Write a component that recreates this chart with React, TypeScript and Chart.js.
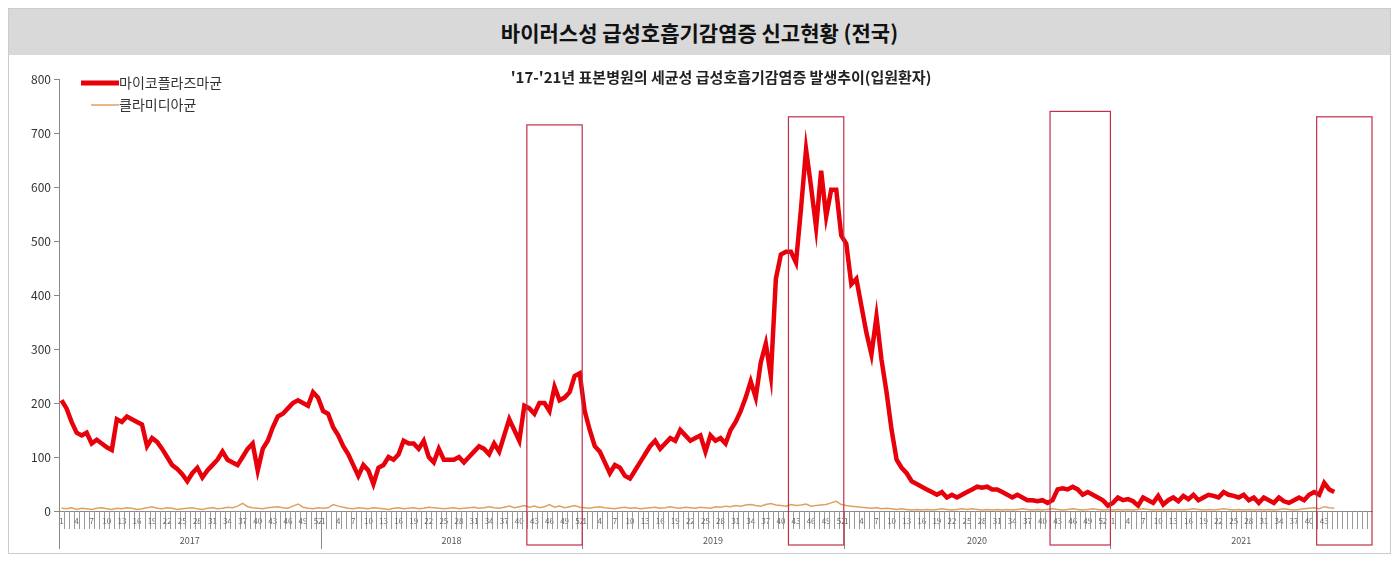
import React, { useEffect, useRef } from "react";
import Chart from "chart.js/auto";

// weeks per year on the axis (2021 data stops at week 45)
const years = ["2017", "2018", "2019", "2020", "2021"];
const weeksPerYear = [52, 52, 52, 53, 52];
const lastLabelledWeek2021 = 45;

const myco2017 = [205, 190, 165, 145, 140, 145, 125, 132, 125, 118, 113, 170, 165, 175, 170, 165, 160, 120, 135, 128, 115, 100, 85, 78, 68, 55, 70, 80, 62, 75, 85, 95, 110, 95, 90, 85, 100, 115, 125, 75, 115, 130, 155, 175, 180, 190, 200, 205, 200, 195, 220, 210];
const myco2018 = [185, 180, 155, 140, 120, 105, 85, 65, 85, 75, 50, 80, 85, 100, 95, 105, 130, 125, 125, 115, 130, 100, 90, 115, 95, 95, 95, 100, 90, 100, 110, 120, 115, 105, 125, 110, 140, 170, 150, 130, 195, 190, 180, 200, 200, 185, 230, 205, 210, 220, 250, 255];
const myco2019 = [185, 150, 120, 110, 90, 70, 85, 80, 65, 60, 75, 90, 105, 120, 130, 115, 125, 135, 130, 150, 140, 130, 135, 140, 110, 140, 130, 135, 125, 150, 165, 185, 210, 240, 210, 275, 310, 250, 430, 475, 480, 480, 460, 560, 670, 600, 525, 630, 545, 595, 595, 510];
const myco2020 = [495, 420, 430, 380, 330, 290, 360, 280, 220, 150, 95, 80, 70, 55, 50, 45, 40, 35, 30, 35, 25, 30, 25, 30, 35, 40, 45, 43, 45, 40, 40, 35, 30, 25, 30, 25, 20, 20, 18, 20, 15, 20, 40, 42, 40, 45, 40, 30, 35, 30, 25, 20, 10];
const myco2021 = [15, 25, 20, 22, 18, 10, 25, 20, 15, 28, 12, 20, 25, 18, 28, 22, 30, 20, 25, 30, 28, 25, 35, 30, 28, 25, 30, 20, 25, 15, 25, 20, 15, 25, 18, 15, 20, 25, 20, 30, 35, 30, 52, 40, 35];

const chla2017 = [5, 4, 6, 3, 5, 4, 3, 5, 6, 4, 3, 5, 4, 6, 5, 3, 4, 6, 8, 5, 4, 6, 5, 3, 4, 5, 6, 4, 3, 5, 6, 4, 5, 7, 6, 9, 14, 8, 6, 5, 4, 6, 7, 8, 6, 5, 9, 13, 7, 5, 4, 6];
const chla2018 = [5, 6, 12, 9, 7, 5, 4, 6, 5, 4, 6, 5, 4, 3, 5, 6, 4, 5, 6, 4, 5, 7, 6, 5, 4, 5, 6, 4, 5, 6, 7, 5, 6, 8, 6, 5, 7, 9, 6, 8, 10, 7, 9, 6, 8, 12, 7, 9, 6, 8, 10, 7];
const chla2019 = [6, 5, 7, 8, 6, 5, 4, 6, 7, 5, 6, 4, 5, 6, 7, 5, 6, 8, 6, 5, 7, 6, 5, 7, 6, 5, 8, 7, 9, 8, 10, 9, 11, 12, 10, 9, 12, 14, 11, 10, 9, 12, 10, 11, 13, 9, 10, 11, 12, 15, 18, 12];
const chla2020 = [10, 9, 8, 7, 6, 5, 6, 4, 5, 4, 3, 4, 3, 2, 3, 2, 3, 2, 3, 4, 3, 2, 3, 4, 3, 4, 3, 2, 3, 2, 3, 2, 3, 2, 3, 4, 3, 2, 3, 2, 3, 4, 3, 2, 3, 4, 3, 2, 3, 4, 3, 2, 3];
const chla2021 = [2, 3, 2, 3, 2, 3, 4, 3, 2, 3, 2, 3, 2, 3, 2, 3, 4, 3, 2, 3, 2, 3, 4, 3, 2, 3, 2, 3, 2, 3, 2, 3, 2, 3, 4, 3, 2, 3, 4, 5, 6, 4, 8, 6, 5];

// highlighted from week 42 to year end, for these years (index into years)
const boxYears = [1, 2, 3, 4];
const boxTops = [715, 730, 740, 730];
const boxStartWeek = 42;

const mycoplasma = [...myco2017, ...myco2018, ...myco2019, ...myco2020, ...myco2021];
const chlamydia = [...chla2017, ...chla2018, ...chla2019, ...chla2020, ...chla2021];
const weekLabels: string[] = weeksPerYear.flatMap((n) => Array.from({ length: n }, (_, i) => String(i + 1)));
const yearStart = weeksPerYear.map((_, i) => weeksPerYear.slice(0, i).reduce((a, b) => a + b, 0));

const FONT = "'Noto Sans CJK KR', 'Noto Sans', sans-serif";

const overlay = {
  id: "overlay",
  afterDraw(chart: any) {
    const { ctx, scales, chartArea } = chart;
    const x = scales.x;
    const y = scales.y;
    const step = x.getPixelForValue(1) - x.getPixelForValue(0);
    const bottom = chartArea.bottom;
    ctx.save();
    // week ticks + labels
    ctx.strokeStyle = "#999";
    ctx.lineWidth = 1;
    ctx.fillStyle = "#666";
    ctx.font = `8px ${FONT}`;
    ctx.textAlign = "center";
    ctx.textBaseline = "middle";
    weekLabels.forEach((w, i) => {
      const px = Math.round(x.getPixelForValue(i) - step / 2) + 0.5;
      ctx.beginPath();
      ctx.moveTo(px, bottom);
      ctx.lineTo(px, bottom + 18);
      ctx.stroke();
      const wk = Number(w);
      const isLastYear = i >= yearStart[4];
      if ((wk - 1) % 3 === 0 && (!isLastYear || wk <= lastLabelledWeek2021)) {
        ctx.fillText(w, x.getPixelForValue(i), bottom + 10);
      }
    });
    // year separators and labels
    ctx.strokeStyle = "#888";
    ctx.fillStyle = "#555";
    ctx.font = `9px ${FONT}`;
    yearStart.forEach((s, i) => {
      const left = x.getPixelForValue(s) - step / 2;
      const right = x.getPixelForValue(s + weeksPerYear[i] - 1) + step / 2;
      ctx.beginPath();
      ctx.moveTo(Math.round(left) + 0.5, bottom);
      ctx.lineTo(Math.round(left) + 0.5, chart.height - 4);
      ctx.stroke();
      ctx.fillText(years[i], (left + right) / 2, chart.height - 12);
    });
    // red boxes
    ctx.strokeStyle = "#c0304a";
    ctx.lineWidth = 1.2;
    boxYears.forEach((yi, k) => {
      const s = yearStart[yi];
      const l = x.getPixelForValue(s + boxStartWeek - 1) - step / 2;
      const r = x.getPixelForValue(s + weeksPerYear[yi] - 1) + step / 2;
      const t = y.getPixelForValue(boxTops[k]);
      ctx.strokeRect(l, t, r - l, chart.height - 8 - t);
    });
    // subtitle
    ctx.fillStyle = "#222";
    ctx.font = `bold 15px ${FONT}`;
    ctx.textBaseline = "alphabetic";
    ctx.fillText("'17-'21년 표본병원의 세균성 급성호흡기감염증 발생추이(입원환자)", 712, 28);
    // legend
    ctx.textAlign = "left";
    ctx.font = `14px ${FONT}`;
    ctx.textBaseline = "middle";
    ctx.strokeStyle = "#e8000b";
    ctx.lineWidth = 5;
    ctx.beginPath();
    ctx.moveTo(72, 28);
    ctx.lineTo(110, 28);
    ctx.stroke();
    ctx.fillStyle = "#333";
    ctx.fillText("마이코플라즈마균", 110, 28);
    ctx.strokeStyle = "#e0a060";
    ctx.lineWidth = 1.5;
    ctx.beginPath();
    ctx.moveTo(82, 50);
    ctx.lineTo(110, 50);
    ctx.stroke();
    ctx.fillText("클라미디아균", 110, 50);
    ctx.restore();
  },
};

const App: React.FC = () => {
  const ref = useRef<HTMLCanvasElement>(null);
  useEffect(() => {
    const ctx = ref.current?.getContext("2d");
    if (!ctx) return;
    const chart = new Chart(ctx, {
      type: "line",
      data: {
        labels: weekLabels,
        datasets: [
          { label: "클라미디아균", data: chlamydia, borderColor: "#e0a060", borderWidth: 1.5, pointRadius: 0, tension: 0 },
          { label: "마이코플라즈마균", data: mycoplasma, borderColor: "#e8000b", borderWidth: 4.5, pointRadius: 0, tension: 0 },
        ],
      },
      options: {
        animation: false,
        responsive: true,
        maintainAspectRatio: false,
        layout: { padding: { top: 24, right: 18, bottom: 0, left: 4 } },
        plugins: { legend: { display: false }, tooltip: { enabled: false }, title: { display: false } },
        scales: {
          x: {
            offset: true,
            grid: { display: false },
            border: { color: "#888" },
            ticks: { display: false },
            afterFit: (s: any) => { s.height = 42; },
          },
          y: {
            min: 0,
            max: 800,
            afterFit: (s: any) => { s.width = 46; },
            grid: { drawOnChartArea: false, tickLength: 5, color: "#888" },
            border: { color: "#888" },
            ticks: { stepSize: 100, color: "#333", font: { size: 12, family: FONT } },
          },
        },
      },
      plugins: [overlay],
    });
    return () => chart.destroy();
  }, []);

  return (
    <div style={{ border: "1px solid #ccc", fontFamily: FONT }}>
      <div style={{ background: "#d9d9d9", height: 46, display: "flex", alignItems: "center", justifyContent: "center", fontWeight: "bold", fontSize: 21, color: "#111" }}>
        바이러스성 급성호흡기감염증 신고현황 (전국)
      </div>
      <div style={{ position: "relative", height: 498 }}>
        <canvas ref={ref} />
      </div>
    </div>
  );
};

export default App;
